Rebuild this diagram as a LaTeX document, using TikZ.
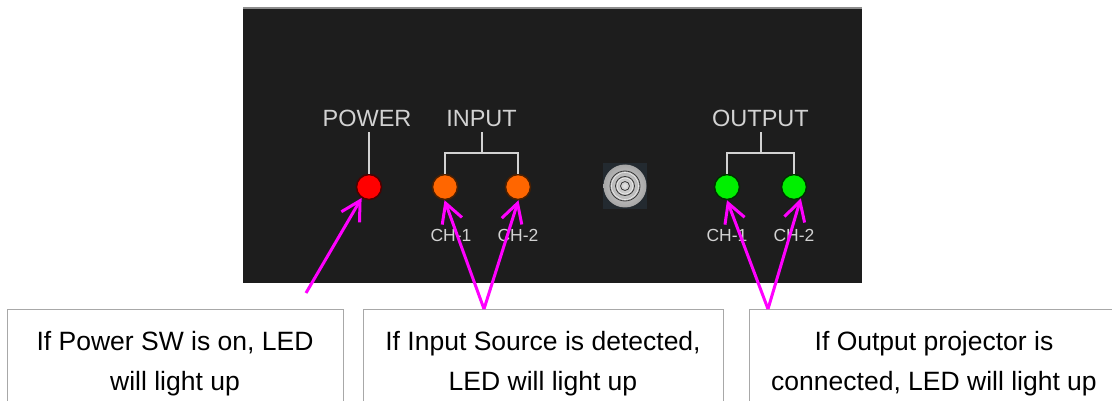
\documentclass[tikz,border=0pt]{standalone}
\usepackage{fontspec}
\setmainfont{Liberation Sans}
\usetikzlibrary{arrows.meta}
\definecolor{panel}{HTML}{1D1D1D}
\definecolor{topedge}{HTML}{8C8C8C}
\definecolor{lbl}{HTML}{D2D2D2}
\definecolor{mag}{HTML}{FF00FF}
\definecolor{boxline}{HTML}{A8A8A8}
\definecolor{ledred}{HTML}{FF0000}
\definecolor{ledorange}{HTML}{FF6600}
\definecolor{ledgreen}{HTML}{00F000}
\definecolor{btnbg}{HTML}{232A30}
\begin{document}
\begin{tikzpicture}[x=1pt,y=-1pt,
  led/.style={circle, minimum size=25pt, inner sep=0pt, line width=1.5pt},
  paneltext/.style={text=lbl, font=\fontsize{23.5}{28}\selectfont, inner sep=5pt, anchor=base},
  chtext/.style={text=lbl, font=\fontsize{17.5}{20}\selectfont, inner sep=0pt, anchor=base},
  bracket/.style={draw=lbl, line width=2pt},
  pointer/.style={draw=mag, line width=3pt, -{Straight Barb[length=19pt,width=21pt]}},
  infobox/.style={draw=boxline, line width=1pt, fill=white, anchor=north west, minimum height=130pt, inner sep=0pt},
  infotext/.style={font=\fontsize{26.5}{40}\selectfont, align=center, inner sep=0pt}]

\useasboundingbox (0,0) rectangle (1112,401);
\clip (0,0) rectangle (1112,401);
\fill[white] (0,0) rectangle (1112,401);

% panel
\fill[panel] (243,8) rectangle (862,283);
\draw[topedge, line width=2.4pt] (243,8.2) -- (862,8.2);

% button
\fill[btnbg] (603,163) rectangle (647,209);
\shade[inner color=gray!30, outer color=gray!70] (625,186) circle (21.5);
\draw[gray!45!black, line width=0.8pt] (625,186) circle (15);
\draw[white!85!gray, line width=0.6pt] (625,186) circle (13.5);
\draw[gray!45!black, line width=0.8pt] (625,186) circle (9.5);
\draw[white!85!gray, line width=0.6pt] (625,186) circle (8);
\draw[gray!45!black, line width=0.8pt] (625,186) circle (4.5);
\fill[gray!25] (625,186) circle (2);

% LEDs
\node[led, fill=ledred, draw=ledred!30!black] (pwr) at (369,187) {};
\node[led, fill=ledorange, draw=ledorange!30!black] (in1) at (445,187) {};
\node[led, fill=ledorange, draw=ledorange!30!black] (in2) at (518,187) {};
\node[led, fill=ledgreen, draw=ledgreen!20!black] (out1) at (727,187) {};
\node[led, fill=ledgreen, draw=ledgreen!20!black] (out2) at (794,187) {};

% panel labels
\node[paneltext] (pwrlbl) at (367,127) {POWER};
\node[paneltext] (inlbl) at (481.5,127) {INPUT};
\node[paneltext] (outlbl) at (760.5,127) {OUTPUT};

\node[chtext] (in1ch) at (451,241) {CH-1};
\node[chtext] (in2ch) at (518,241) {CH-2};
\node[chtext] (out1ch) at (727,241) {CH-1};
\node[chtext] (out2ch) at (794,241) {CH-2};

% brackets
\coordinate (inbar) at (481.5,153);
\coordinate (outbar) at (760.5,153);
\draw[bracket] (pwrlbl.south -| pwr.north) -- (pwr.north);
\draw[bracket] (inlbl.south) -- (inbar);
\draw[bracket] (in1.north) -- (in1.north |- inbar) -- (in2.north |- inbar) -- (in2.north);
\draw[bracket] (outlbl.south) -- (outbar);
\draw[bracket] (out1.north) -- (out1.north |- outbar) -- (out2.north |- outbar) -- (out2.north);

% info boxes
\node[infobox, minimum width=336pt] (box1) at (7,309) {};
\node[infobox, minimum width=360pt] (box2) at (363,309) {};
\node[infobox, minimum width=370pt] (box3) at (749,309) {};

\node[infotext] (t1) at (175,364) {If Power SW is on, LED\\will light up};
\node[infotext] (t2) at (543,364) {If Input Source is detected,\\LED will light up};
\node[infotext] (t3) at (934,364) {If Output projector is\\connected, LED will light up};

% pointers
\coordinate (p1) at (306,293);
\coordinate (v1) at (484,309);
\coordinate (v2) at (768,309);
\draw[pointer] (p1) -- (pwr.236);
\draw[pointer] (v1) -- (in1.268);
\draw[pointer] (v1) -- (in2.272);
\draw[pointer] (v2) -- (out1.270);
\draw[pointer] (v2) -- (out2.301);
\end{tikzpicture}
\end{document}
